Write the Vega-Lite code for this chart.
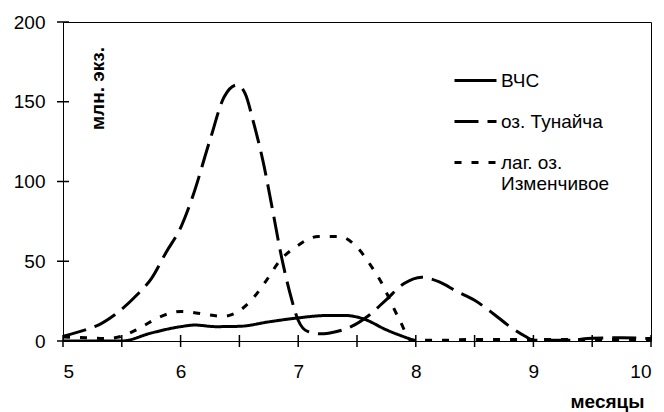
{
  "$schema": "https://vega.github.io/schema/vega-lite/v6.json",
  "autosize": "none",
  "width": 588,
  "height": 319,
  "padding": {"top": 22, "left": 63, "right": 13, "bottom": 71},
  "background": "white",
  "config": {
    "font": "Liberation Sans",
    "view": {"stroke": "black", "strokeWidth": 1}
  },
  "datasets": {
    "xticks": [{"m": 5}, {"m": 5.5}, {"m": 6}, {"m": 6.5}, {"m": 7}, {"m": 7.5}, {"m": 8}, {"m": 8.5}, {"m": 9}, {"m": 9.5}, {"m": 10}],
    "yticks": [{"v": 0}, {"v": 50}, {"v": 100}, {"v": 150}, {"v": 200}],
    "series": [
      {"m": 5.0, "v": 0, "s": "ВЧС"},
      {"m": 5.5, "v": 0, "s": "ВЧС"},
      {"m": 5.75, "v": 5, "s": "ВЧС"},
      {"m": 6.0, "v": 9, "s": "ВЧС"},
      {"m": 6.12, "v": 10, "s": "ВЧС"},
      {"m": 6.3, "v": 9, "s": "ВЧС"},
      {"m": 6.5, "v": 9.2, "s": "ВЧС"},
      {"m": 6.75, "v": 12, "s": "ВЧС"},
      {"m": 7.0, "v": 14.5, "s": "ВЧС"},
      {"m": 7.25, "v": 16, "s": "ВЧС"},
      {"m": 7.4, "v": 16, "s": "ВЧС"},
      {"m": 7.55, "v": 14, "s": "ВЧС"},
      {"m": 7.75, "v": 7, "s": "ВЧС"},
      {"m": 8.0, "v": 0, "s": "ВЧС"},

      {"m": 5.0, "v": 3, "s": "оз. Тунайча"},
      {"m": 5.19, "v": 7, "s": "оз. Тунайча"},
      {"m": 5.3, "v": 10, "s": "оз. Тунайча"},
      {"m": 5.44, "v": 16.5, "s": "оз. Тунайча"},
      {"m": 5.5, "v": 20, "s": "оз. Тунайча"},
      {"m": 5.63, "v": 29, "s": "оз. Тунайча"},
      {"m": 5.75, "v": 39, "s": "оз. Тунайча"},
      {"m": 5.88, "v": 56, "s": "оз. Тунайча"},
      {"m": 6.0, "v": 71, "s": "оз. Тунайча"},
      {"m": 6.1, "v": 90, "s": "оз. Тунайча"},
      {"m": 6.25, "v": 126, "s": "оз. Тунайча"},
      {"m": 6.37, "v": 153, "s": "оз. Тунайча"},
      {"m": 6.48, "v": 160.5, "s": "оз. Тунайча"},
      {"m": 6.55, "v": 155, "s": "оз. Тунайча"},
      {"m": 6.62, "v": 137, "s": "оз. Тунайча"},
      {"m": 6.7, "v": 113, "s": "оз. Тунайча"},
      {"m": 6.78, "v": 83, "s": "оз. Тунайча"},
      {"m": 6.86, "v": 52, "s": "оз. Тунайча"},
      {"m": 6.93, "v": 30, "s": "оз. Тунайча"},
      {"m": 7.0, "v": 13, "s": "оз. Тунайча"},
      {"m": 7.08, "v": 6, "s": "оз. Тунайча"},
      {"m": 7.2, "v": 4.5, "s": "оз. Тунайча"},
      {"m": 7.3, "v": 5.5, "s": "оз. Тунайча"},
      {"m": 7.45, "v": 9, "s": "оз. Тунайча"},
      {"m": 7.6, "v": 16, "s": "оз. Тунайча"},
      {"m": 7.75, "v": 26, "s": "оз. Тунайча"},
      {"m": 7.9, "v": 36, "s": "оз. Тунайча"},
      {"m": 8.05, "v": 40, "s": "оз. Тунайча"},
      {"m": 8.2, "v": 37, "s": "оз. Тунайча"},
      {"m": 8.35, "v": 31, "s": "оз. Тунайча"},
      {"m": 8.5, "v": 25.5, "s": "оз. Тунайча"},
      {"m": 8.67, "v": 16.5, "s": "оз. Тунайча"},
      {"m": 8.8, "v": 9, "s": "оз. Тунайча"},
      {"m": 8.93, "v": 3, "s": "оз. Тунайча"},
      {"m": 9.0, "v": 0.5, "s": "оз. Тунайча"},
      {"m": 9.3, "v": 0.5, "s": "оз. Тунайча"},
      {"m": 9.5, "v": 1.8, "s": "оз. Тунайча"},
      {"m": 9.75, "v": 2, "s": "оз. Тунайча"},
      {"m": 10.0, "v": 1.5, "s": "оз. Тунайча"},

      {"m": 5.0, "v": 2.5, "s": "лаг. оз. Изменчивое"},
      {"m": 5.2, "v": 2, "s": "лаг. оз. Изменчивое"},
      {"m": 5.36, "v": 1.5, "s": "лаг. оз. Изменчивое"},
      {"m": 5.5, "v": 3, "s": "лаг. оз. Изменчивое"},
      {"m": 5.65, "v": 8, "s": "лаг. оз. Изменчивое"},
      {"m": 5.82, "v": 15, "s": "лаг. оз. Изменчивое"},
      {"m": 6.0, "v": 18.5, "s": "лаг. оз. Изменчивое"},
      {"m": 6.19, "v": 17, "s": "лаг. оз. Изменчивое"},
      {"m": 6.36, "v": 15.5, "s": "лаг. оз. Изменчивое"},
      {"m": 6.52, "v": 20, "s": "лаг. оз. Изменчивое"},
      {"m": 6.63, "v": 28, "s": "лаг. оз. Изменчивое"},
      {"m": 6.73, "v": 38, "s": "лаг. оз. Изменчивое"},
      {"m": 6.84, "v": 50, "s": "лаг. оз. Изменчивое"},
      {"m": 6.98, "v": 59, "s": "лаг. оз. Изменчивое"},
      {"m": 7.17, "v": 65.5, "s": "лаг. оз. Изменчивое"},
      {"m": 7.35, "v": 65.5, "s": "лаг. оз. Изменчивое"},
      {"m": 7.51, "v": 58, "s": "лаг. оз. Изменчивое"},
      {"m": 7.62, "v": 47, "s": "лаг. оз. Изменчивое"},
      {"m": 7.72, "v": 35, "s": "лаг. оз. Изменчивое"},
      {"m": 7.79, "v": 24, "s": "лаг. оз. Изменчивое"},
      {"m": 7.87, "v": 12, "s": "лаг. оз. Изменчивое"},
      {"m": 7.96, "v": 0.5, "s": "лаг. оз. Изменчивое"},
      {"m": 8.25, "v": 0.5, "s": "лаг. оз. Изменчивое"},
      {"m": 8.5, "v": 1, "s": "лаг. оз. Изменчивое"},
      {"m": 9.0, "v": 1, "s": "лаг. оз. Изменчивое"},
      {"m": 9.5, "v": 1, "s": "лаг. оз. Изменчивое"},
      {"m": 10.0, "v": 1, "s": "лаг. оз. Изменчивое"}
    ]
  },
  "layer": [
    {
      "data": {"name": "series"},
      "mark": {"type": "line", "interpolate": "monotone", "color": "black", "strokeWidth": 3, "clip": true},
      "encoding": {
        "x": {
          "field": "m", "type": "quantitative",
          "scale": {"domain": [5, 10], "nice": false, "zero": false},
          "axis": {
            "values": [5, 6, 7, 8, 9, 10],
            "format": "d",
            "domain": false, "grid": false, "ticks": false, "tickSize": 0,
            "labelPadding": 21, "labelFontSize": 19, "labelColor": "black", "labelFont": "Liberation Sans",
            "title": "месяцы", "titleFontSize": 19, "titleFontWeight": "bold", "titleColor": "black", "titleFont": "Liberation Sans",
            "titleX": 544, "titleY": 60, "titleAlign": "center", "titleBaseline": "middle"
          }
        },
        "y": {
          "field": "v", "type": "quantitative",
          "scale": {"domain": [0, 200], "nice": false},
          "axis": {
            "values": [0, 50, 100, 150, 200],
            "domain": false, "grid": false, "ticks": false, "tickSize": 0,
            "labelPadding": 18, "labelFontSize": 19, "labelColor": "black", "labelFont": "Liberation Sans",
            "title": "млн. экз.", "titleFontSize": 19, "titleFontWeight": "bold", "titleColor": "black", "titleFont": "Liberation Sans",
            "titleX": 34, "titleY": 66, "titleAngle": -90, "titleAlign": "center", "titleBaseline": "middle"
          }
        },
        "strokeDash": {
          "field": "s", "type": "nominal",
          "scale": {
            "domain": ["ВЧС", "оз. Тунайча", "лаг. оз. Изменчивое"],
            "range": [[1, 0], [24, 9], [7, 10]]
          },
          "legend": {
            "title": null,
            "orient": "none",
            "legendX": 390,
            "legendY": 36,
            "padding": 0,
            "symbolType": "stroke",
            "symbolSize": 1764,
            "symbolStrokeWidth": 3,
            "symbolStrokeColor": "black",
            "labelFontSize": 19,
            "labelFont": "Liberation Sans",
            "labelColor": "black",
            "labelOffset": 3,
            "labelLimit": 300,
            "rowPadding": 8,
            "labelExpr": "datum.label == 'лаг. оз. Изменчивое' ? ['лаг. оз.', 'Изменчивое'] : datum.label"
          }
        }
      }
    },
    {
      "data": {"name": "xticks"},
      "mark": {"type": "point", "shape": "M0,-1L0,1", "size": 144, "filled": false, "stroke": "black", "strokeWidth": 1.5, "opacity": 1, "strokeOpacity": 1},
      "encoding": {
        "x": {"field": "m", "type": "quantitative"},
        "y": {"datum": 0, "type": "quantitative"}
      }
    },
    {
      "data": {"name": "yticks"},
      "mark": {"type": "point", "shape": "M-1,0L1,0", "size": 144, "filled": false, "stroke": "black", "strokeWidth": 1.5, "opacity": 1, "strokeOpacity": 1},
      "encoding": {
        "x": {"datum": 5, "type": "quantitative"},
        "y": {"field": "v", "type": "quantitative"}
      }
    }
  ]
}
